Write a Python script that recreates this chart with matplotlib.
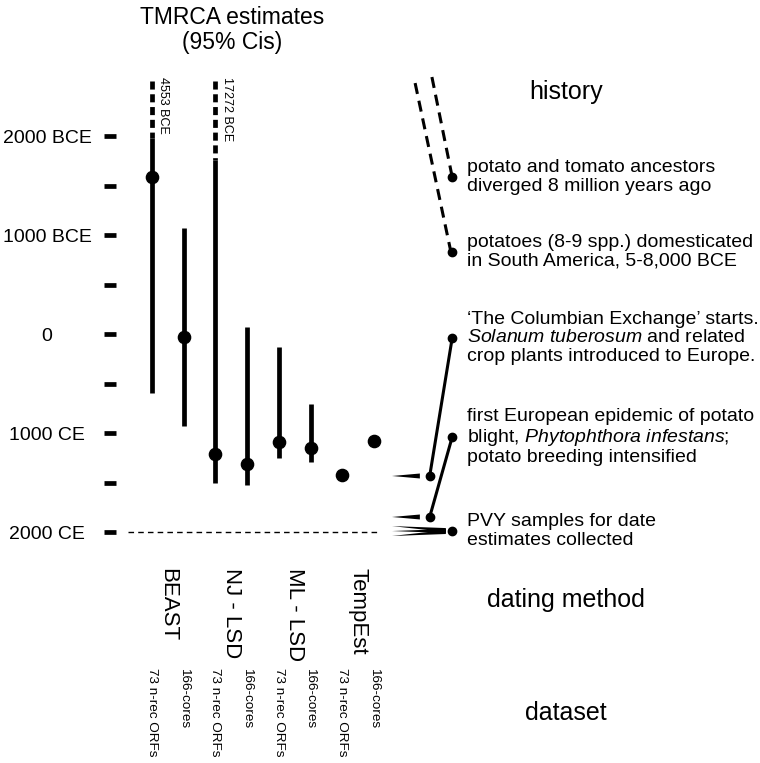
import numpy as np
import matplotlib
matplotlib.use('Agg')
import matplotlib.pyplot as plt

plt.rcParams['font.family'] = ['Liberation Sans', 'DejaVu Sans']
plt.rcParams['mathtext.fontset'] = 'custom'
plt.rcParams['mathtext.rm'] = 'Liberation Sans'
plt.rcParams['mathtext.it'] = 'Liberation Sans:italic'
plt.rcParams['lines.scale_dashes'] = False

# TMRCA estimates, years (negative = BCE)
methods = ['BEAST', 'NJ - LSD', 'ML - LSD', 'TempEst']
datasets = ['73 n-rec ORFs', '166-cores'] * 4
point = [-1590, 30, 1210, 1310, 1090, 1150, 1425, 1080]
ci_old = [-4553, -1070, -17272, -70, 130, 705, np.nan, np.nan]
ci_young = [600, 930, 1505, 1525, 1255, 1295, np.nan, np.nan]
off_axis_label = {0: '4553 BCE', 2: '17272 BCE'}
solid_from = {0: -1980, 2: -1760}   # where the broken bar turns solid
dash_top = -2560

tick_years = [-2000, -1500, -1000, -500, 0, 500, 1000, 1500, 2000]
tick_labels = ['2000 BCE', '', '1000 BCE', '', '0', '', '1000 CE', '', '2000 CE']

# history column
hist_text = [
    'potato and tomato ancestors\ndiverged 8 million years ago',
    'potatoes (8-9 spp.) domesticated\nin South America, 5-8,000 BCE',
    '\u2018The Columbian Exchange\u2019 starts.\n'
    '$\\it{Solanum\\ tuberosum}$ and related\ncrop plants introduced to Europe.',
    'first European epidemic of potato\nblight, $\\it{Phytophthora\\ infestans}$;\npotato breeding intensified',
    'PVY samples for date\nestimates collected',
]
hist_row = [-1586, -828, 40, 1040, 1990]
hist_date = [None, None, 1434, 1848, 1990]

fig = plt.figure(figsize=(7.6, 7.63), dpi=100)
ax = fig.add_axes([116 / 760, 0, 644 / 760, 1])
ax.set_xlim(-1.136, 19.18)
ax.set_ylim(4333, -3374)
for s in ax.spines.values():
    s.set_visible(False)
ax.set_xticks([])
ax.set_yticks(tick_years)
ax.set_yticklabels(tick_labels, fontsize=14)
ax.tick_params(axis='y', direction='out', length=8.6, width=3.4, pad=41)
for lab in ax.get_yticklabels():
    lab.set_horizontalalignment('center')

xs = np.arange(len(point))
for i in xs:
    if i in solid_from:
        ax.plot([i, i], [dash_top, solid_from[i]], color='black', lw=3.4,
                dashes=(5.8, 3.4), solid_capstyle='butt', dash_capstyle='butt', clip_on=False)
        ax.plot([i, i], [solid_from[i], ci_young[i]], color='black', lw=3.4,
                solid_capstyle='butt', clip_on=False)
        ax.text(i + 0.35, dash_top - 40, off_axis_label[i], rotation=270, fontsize=9,
                ha='center', va='top')
    elif not np.isnan(ci_old[i]):
        ax.plot([i, i], [ci_old[i], ci_young[i]], color='black', lw=3.4,
                solid_capstyle='butt', clip_on=False)
    ax.plot(i, point[i], 'o', color='black', ms=8.8, clip_on=False)
    ax.text(i, 3374, datasets[i], rotation=270, fontsize=9.7, ha='center', va='top')

for k, m in enumerate(methods):
    ax.text(2 * k + 0.5, 2364, m, rotation=270, fontsize=16, ha='center', va='top')

# 2000 CE reference line
ax.plot([-0.757, 7.13], [2000, 2000], color='black', lw=1, dashes=(4, 3))

# history column
x_dot = 9.47
x_date = 8.76
x_text = 9.93
for t, r in zip(hist_text, hist_row):
    ax.plot(x_dot, r, 'o', color='black', ms=6, clip_on=False)
    ax.text(x_text, r, t, fontsize=14, ha='left', va='center', linespacing=1.1)

# broken (dashed) links for the deep-time events
ax.plot([8.30, x_dot - 0.04], [-2535, hist_row[1]], color='black', lw=2.2, dashes=(8, 5))
ax.plot([8.83, x_dot], [-2596, hist_row[0]], color='black', lw=2.2, dashes=(8, 5))

# solid links from real dates to the history rows
h = 25
for r, d in zip(hist_row[2:4], hist_date[2:4]):
    ax.plot([x_date, x_dot], [d, r], color='black', lw=2.2)
    ax.plot(x_date, d, 'o', color='black', ms=6)
    ax.fill([7.57, 8.45, 8.45], [d, d - h, d + h], color='black', lw=0)

# PVY: three wedges converging on the sampling date
for off in [-50, 0, 50]:
    y0 = hist_date[4] + off
    ax.fill([7.57, x_dot - 0.2, x_dot - 0.2], [y0, y0 - h * 0.8 - off * 0.8, y0 + h * 0.8 - off * 0.8],
            color='black', lw=0)

# headers
ax.text(2.52, -3070, 'TMRCA estimates\n(95% Cis)', fontsize=16.5, ha='center', va='center',
        linespacing=1.15)
ax.text(13.06, -2444, 'history', fontsize=18, ha='center', va='center')
ax.text(13.06, 2687, 'dating method', fontsize=18, ha='center', va='center')
ax.text(13.06, 3828, 'dataset', fontsize=18, ha='center', va='center')

fig.savefig('out.png', dpi=100)
